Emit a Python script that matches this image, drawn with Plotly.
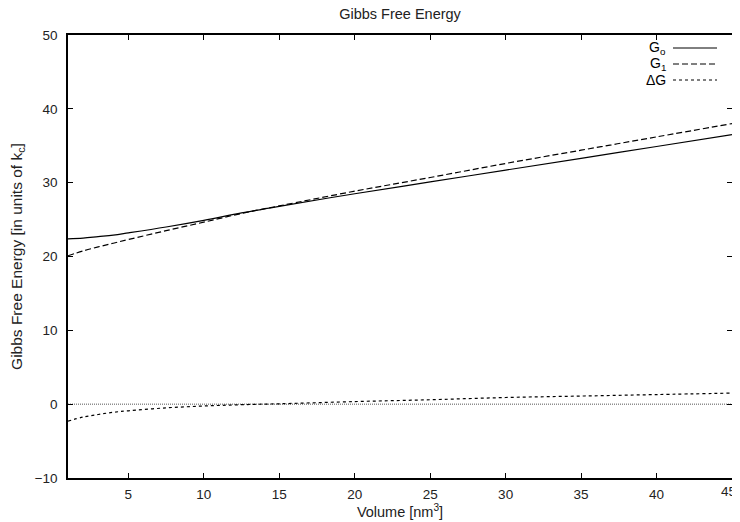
import plotly.graph_objects as go

# Data
volume = [1, 2, 3, 4, 5, 7.5, 10, 12.5, 15, 20, 25, 30, 35, 40, 45]
g0 = [22.4, 22.5, 22.7, 22.9, 23.2, 24.0, 24.9, 25.9, 26.8, 28.5, 30.1, 31.7, 33.3, 34.9, 36.5]
g1 = [20.1, 20.75, 21.3, 21.8, 22.3, 23.5, 24.65, 25.83, 26.85, 28.85, 30.7, 32.6, 34.4, 36.2, 38.0]
dg = [-2.3, -1.75, -1.4, -1.1, -0.9, -0.5, -0.25, -0.07, 0.05, 0.35, 0.6, 0.9, 1.1, 1.3, 1.5]
zero_x = [1, 45]
zero_y = [0, 0]

x_ticks = [5, 10, 15, 20, 25, 30, 35, 40, 45]
x_tick_labels = ["5", "10", "15", "20", "25", "30", "35", "40", "45"]
y_ticks = [-10, 0, 10, 20, 30, 40, 50]

legend_labels = ["G<sub>o</sub>", "G<sub>1</sub>", "ΔG"]
legend_dashes = ["solid", "6px,3px", "3px,3px"]

FONT = "Liberation Sans, Arial, sans-serif"

fig = go.Figure()
fig.add_trace(go.Scatter(x=zero_x, y=zero_y, mode="lines",
                         line=dict(color="#555", width=1, dash="1px,1px"),
                         showlegend=False, hoverinfo="skip"))
fig.add_trace(go.Scatter(x=volume, y=g0, mode="lines", name=legend_labels[0],
                         line=dict(color="black", width=1.2, dash=legend_dashes[0], shape="spline"),
                         showlegend=False))
fig.add_trace(go.Scatter(x=volume, y=g1, mode="lines", name=legend_labels[1],
                         line=dict(color="black", width=1.2, dash=legend_dashes[1], shape="spline"),
                         showlegend=False))
fig.add_trace(go.Scatter(x=volume, y=dg, mode="lines", name=legend_labels[2],
                         line=dict(color="black", width=1.2, dash=legend_dashes[2], shape="spline"),
                         showlegend=False))

# The page body adds an 8px offset; the figure is sized to fit the window.
OFF = 8
FIG_W, FIG_H = 740 - OFF, 522 - OFF
L, T = 68 - OFF, 35 - OFF
W, H = 664, 443
R = FIG_W - L - W
B = FIG_H - T - H
def px_to_paper_x(px):
    return (px - OFF - L) / W
def px_to_paper_y(py):
    return 1 - (py - OFF - T) / H

# gnuplot-style legend: text right-aligned, line sample to the right
legend_rows = [48, 64, 80]
for lab, dash, py in zip(legend_labels, legend_dashes, legend_rows):
    fig.add_annotation(x=px_to_paper_x(668), y=px_to_paper_y(py), xref="paper", yref="paper",
                       text=lab, showarrow=False, xanchor="right", yanchor="middle",
                       font=dict(family=FONT, size=14, color="black"))
    fig.add_shape(type="line", xref="paper", yref="paper",
                  x0=px_to_paper_x(673), x1=px_to_paper_x(717),
                  y0=px_to_paper_y(py), y1=px_to_paper_y(py),
                  line=dict(color="black", width=1, dash=dash))

TICK_FONT = dict(family=FONT, size=13.5, color="#222")
axis_common = dict(showline=True, linecolor="black", linewidth=1.5, mirror="allticks",
                   ticks="inside", ticklen=5, tickcolor="black", tickwidth=1,
                   showgrid=False, zeroline=False, automargin=False,
                   ticklabeloverflow="allow", tickfont=TICK_FONT)

# last x tick label sits at the right edge; draw it right-aligned so it stays visible
fig.update_xaxes(range=[1, 45], tickvals=x_ticks, ticktext=x_tick_labels[:-1] + [""],
                 ticklabelstandoff=3,
                 title=dict(text="Volume [nm<sup>3</sup>]", standoff=4,
                            font=dict(family=FONT, size=14.5, color="#222")),
                 **axis_common)
fig.add_annotation(x=x_ticks[-1], y=0, xref="x", yref="paper", text=x_tick_labels[-1],
                   showarrow=False, xanchor="right", yanchor="top", xshift=6, yshift=-4,
                   font=TICK_FONT)
fig.update_yaxes(range=[-10, 50], tickvals=y_ticks, ticklabelstandoff=6,
                 title=dict(text="Gibbs Free Energy [in units of k<sub>c</sub>]", standoff=10,
                            font=dict(family=FONT, size=15.5, color="#222")),
                 **axis_common)

fig.update_layout(
    width=FIG_W, height=FIG_H,
    margin=dict(l=L, r=R, t=T, b=B, autoexpand=False),
    paper_bgcolor="white", plot_bgcolor="white",
    title=dict(text="Gibbs Free Energy", x=0.5, xref="paper", y=1 - 1 / FIG_H,
               yref="container", yanchor="top", xanchor="center",
               font=dict(family=FONT, size=14.5, color="#222")),
)

fig.write_html("out.html")
